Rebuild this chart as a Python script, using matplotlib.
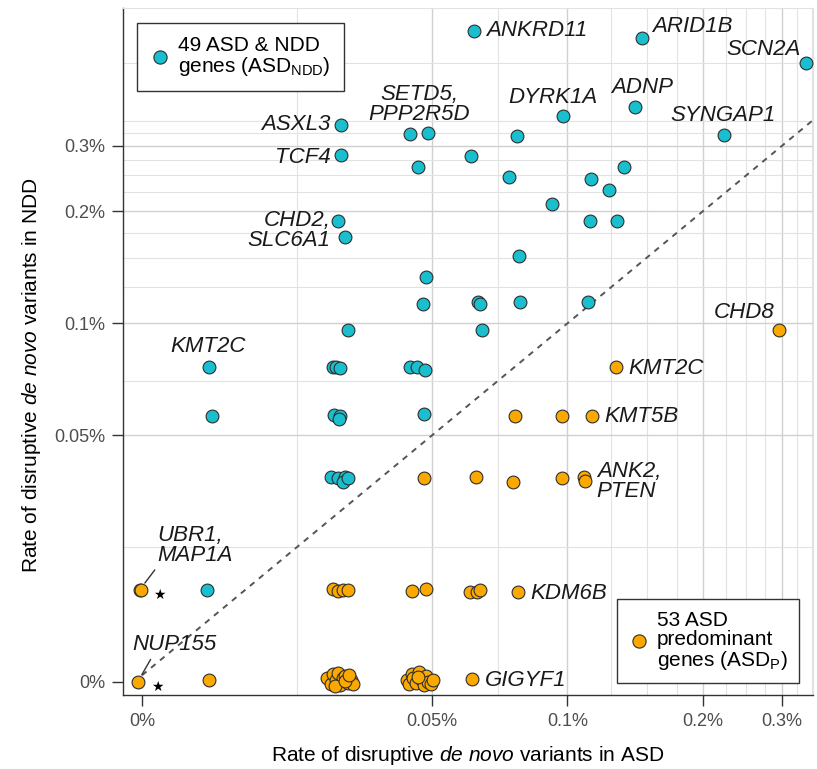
import matplotlib
matplotlib.use("Agg")
import matplotlib.pyplot as plt
from matplotlib.lines import Line2D

plt.rcParams['font.family'] = ['Liberation Sans', 'DejaVu Sans']
plt.rcParams['mathtext.fontset'] = 'custom'
plt.rcParams['mathtext.rm'] = 'Liberation Sans'
plt.rcParams['mathtext.it'] = 'Liberation Sans:italic'

# ---------------- data (rates in %) ----------------
# genes with zero variants sit at the chart's "0%" offset position
zero_x = 0.0113
zero_y = 0.01084

# 49 ASD & NDD genes (ASD_NDD)
ndd_x = [0.0620, 0.1465, 0.339, 0.1413, 0.0977, 0.2228, 0.0314, 0.0447, 0.0490, 0.0773,
         0.0314, 0.0611, 0.0465, 0.0741, 0.1336, 0.1128, 0.1237, 0.0924, 0.1122, 0.1289,
         0.0308, 0.0319, 0.0780, 0.0485, 0.0477, 0.0633, 0.0639, 0.0784, 0.1111, 0.0324,
         0.0646, 0.0159, 0.0300, 0.0306, 0.0312, 0.0447, 0.0463, 0.0482, 0.0162, 0.0303,
         0.0312, 0.0310, 0.0480, 0.0297, 0.0308, 0.0319, 0.0316, 0.0325, 0.0158]
ndd_y = [0.613, 0.587, 0.500, 0.383, 0.360, 0.322, 0.341, 0.324, 0.326, 0.320,
         0.283, 0.281, 0.264, 0.247, 0.264, 0.245, 0.229, 0.209, 0.189, 0.189,
         0.188, 0.171, 0.152, 0.133, 0.113, 0.114, 0.113, 0.114, 0.114, 0.0957,
         0.0960, 0.0762, 0.0762, 0.0762, 0.0757, 0.0762, 0.0762, 0.0748, 0.0563, 0.0566,
         0.0563, 0.0552, 0.0570, 0.0386, 0.0383, 0.0386, 0.0374, 0.0383, 0.0192]

# 53 ASD predominant genes (ASD_P)
asdp_x = [0.295, 0.1282, 0.0765, 0.0973, 0.1134, 0.0480, 0.0626, 0.0757, 0.0973, 0.1088,
          0.1093, 0.01117, 0.01125, 0.0301, 0.0308, 0.0317, 0.0324, 0.0451, 0.0485, 0.0607,
          0.0629, 0.0639, 0.0776, 0.01105, 0.0159, 0.0614,
          0.0292, 0.0297, 0.0301, 0.0306, 0.0309, 0.0312, 0.0316, 0.0320, 0.0324, 0.0329,
          0.0334, 0.0304, 0.0319, 0.0327,
          0.0440, 0.0444, 0.0451, 0.0454, 0.0461, 0.0468, 0.0473, 0.0480, 0.0485, 0.0490,
          0.0497, 0.0503, 0.0465]
asdp_y = [0.0957, 0.0762, 0.0563, 0.0563, 0.0563, 0.0383, 0.0386, 0.0374, 0.0383, 0.0386,
          0.0376, 0.0192, 0.0192, 0.0193, 0.0190, 0.0192, 0.0192, 0.0190, 0.0193, 0.0189,
          0.0189, 0.0192, 0.0189, 0.01084, 0.01098, 0.01104,
          0.01111, 0.01071, 0.01139, 0.01098, 0.01146, 0.01064, 0.01111, 0.01125, 0.01077, 0.01098,
          0.01071, 0.01058, 0.01091, 0.01132,
          0.01098, 0.01071, 0.01139, 0.01111, 0.01077, 0.01153, 0.01104, 0.01064, 0.01125, 0.01084,
          0.01071, 0.01098, 0.01118]

x_ticks = [zero_x, 0.05, 0.1, 0.2, 0.3]
x_tick_labels = ["0%", "0.05%", "0.1%", "0.2%", "0.3%"]
y_ticks = [zero_y, 0.05, 0.1, 0.2, 0.3]
y_tick_labels = ["0%", "0.05%", "0.1%", "0.2%", "0.3%"]
x_minor_grid = [0.025, 0.07, 0.125, 0.15, 0.175, 0.225, 0.25, 0.275, 0.325, 0.35]
y_minor_grid = [0.025, 0.07, 0.125, 0.15, 0.175, 0.225, 0.25, 0.275, 0.325, 0.35, 0.5]

# gene labels: (text, point index, dx px, dy px, ha)
ndd_labels = [("ANKRD11", 0, 12, 0, "left"),
              ("ARID1B", 1, 10, 11, "left"),
              ("SCN2A", 2, -5, 14, "right"),
              ("ADNP", 3, 7, 19, "center"),
              ("DYRK1A", 4, -10, 19, "center"),
              ("SYNGAP1", 5, -1, 19, "center"),
              ("ASXL3", 6, -11, 1, "right"),
              ("SETD5,\nPPP2R5D", 7, 9, 29, "center"),
              ("TCF4", 10, -11, -2, "right"),
              ("CHD2,\nSLC6A1", 20, -7, -9, "right"),
              ("KMT2C", 31, -1, 21, "center")]
asdp_labels = [("CHD8", 0, -34, 18, "center"),
               ("KMT2C", 1, 12, -1, "left"),
               ("KMT5B", 4, 12, 0, "left"),
               ("ANK2,\nPTEN", 10, 12, 0, "left"),
               ("KDM6B", 22, 12, -1, "left"),
               ("GIGYF1", 25, 13, -1, "left")]
# labels with leader lines and a star
lead_labels = [("UBR1,\nMAP1A", 11, 18, 44, 0.0), ("NUP155", 23, -5, 37, 0.24)]

blue = '#19BECF'
orange = '#FBA900'
edge = '#2E2E2E'
LABEL_SIZE = 16

fig = plt.figure(figsize=(8.17, 7.69), dpi=100)
ax = fig.add_axes([123 / 817, 74 / 769, 690 / 817, 687 / 769])
ax.set_xscale('log')
ax.set_yscale('log')

# ticks and grid
ax.set_xticks(x_ticks)
ax.set_xticklabels(x_tick_labels)
ax.set_yticks(y_ticks)
ax.set_yticklabels(y_tick_labels)
ax.set_xticks(x_minor_grid, minor=True)
ax.set_yticks(y_minor_grid, minor=True)
ax.xaxis.set_minor_formatter(plt.NullFormatter())
ax.yaxis.set_minor_formatter(plt.NullFormatter())
ax.set_xlim(0.01025, 0.352)
ax.set_ylim(0.0100, 0.705)
ax.grid(True, which='major', color='#D0D0D0', lw=1.0)
ax.grid(True, which='minor', color='#E2E2E2', lw=0.8)
ax.xaxis.get_gridlines()[0].set_visible(False)
ax.yaxis.get_gridlines()[0].set_visible(False)
ax.set_axisbelow(True)

ax.tick_params(axis='both', which='major', length=8, width=1.0, color='#333333',
               labelcolor='#4D4D4D', labelsize=13, pad=5)
ax.tick_params(axis='both', which='minor', length=0)

for s in ['left', 'bottom']:
    ax.spines[s].set_color('#333333')
    ax.spines[s].set_linewidth(1.0)
for s in ['top', 'right']:
    ax.spines[s].set_color('#E2E2E2')
    ax.spines[s].set_linewidth(0.8)

# diagonal y = x
diag = [zero_x, 0.36]
ax.plot(diag, diag, ls=(0, (3, 3)), color='#555555', lw=1.4, zorder=2)

ax.scatter(ndd_x, ndd_y, s=85, c=blue, edgecolors=edge, linewidths=0.8, zorder=3)
ax.scatter(asdp_x, asdp_y, s=85, c=orange, edgecolors=edge, linewidths=0.8, zorder=3)

for txt, i, dx, dy, ha in ndd_labels:
    ax.annotate(txt, (ndd_x[i], ndd_y[i]), xytext=(dx, dy), textcoords='offset pixels',
                ha=ha, va='center', fontsize=LABEL_SIZE, style='italic', color='#1A1A1A',
                linespacing=0.92, multialignment=ha, zorder=4)
for txt, i, dx, dy, ha in asdp_labels:
    ax.annotate(txt, (asdp_x[i], asdp_y[i]), xytext=(dx, dy), textcoords='offset pixels',
                ha=ha, va='center', fontsize=LABEL_SIZE, style='italic', color='#1A1A1A',
                linespacing=0.92, multialignment=ha, zorder=4)
for txt, i, dx, dy, rx in lead_labels:
    ax.annotate(txt, (asdp_x[i], asdp_y[i]), xytext=(dx, dy), textcoords='offset pixels',
                ha='left', va='center', fontsize=LABEL_SIZE, style='italic', color='#1A1A1A',
                linespacing=0.92, zorder=4,
                arrowprops=dict(arrowstyle='-', color='#333333', lw=1.0,
                                relpos=(rx, 0.0), shrinkA=1, shrinkB=6))
    ax.annotate('\u2605', (asdp_x[i], asdp_y[i]), xytext=(20, -5), textcoords='offset pixels',
                ha='center', va='center', fontsize=10, family='DejaVu Sans', color='black',
                zorder=4)

ax.set_xlabel("Rate of disruptive $\\mathit{de\\ novo}$ variants in ASD", fontsize=15)
ax.set_ylabel("Rate of disruptive $\\mathit{de\\ novo}$ variants in NDD", fontsize=15)
ax.xaxis.set_label_coords(0.5, -0.071)
ax.yaxis.set_label_coords(-0.116, 0.465)

h1 = Line2D([], [], ls='', marker='o', ms=9.5, mfc=blue, mec=edge, mew=0.8)
h2 = Line2D([], [], ls='', marker='o', ms=9.5, mfc=orange, mec=edge, mew=0.8)
leg1 = ax.legend([h1], ["49 ASD & NDD\ngenes (ASD$_{\\mathregular{NDD}}$)"],
                 loc='upper left', bbox_to_anchor=(0.0203, 0.978), fontsize=15,
                 frameon=True, fancybox=False, edgecolor='#333333', framealpha=1,
                 handlelength=1.0, handletextpad=0.35, borderpad=0.62, borderaxespad=0)
leg1.get_frame().set_linewidth(1.0)
for t in leg1.get_texts():
    t.set_linespacing(1.0)
ax.add_artist(leg1)
leg2 = ax.legend([h2], ["53 ASD\npredominant\ngenes (ASD$_{\\mathregular{P}}$)"],
                 loc='lower right', bbox_to_anchor=(0.9797, 0.0175), fontsize=15,
                 frameon=True, fancybox=False, edgecolor='#333333', framealpha=1,
                 handlelength=1.0, handletextpad=0.35, borderpad=0.55, borderaxespad=0)
leg2.get_frame().set_linewidth(1.0)
for t in leg2.get_texts():
    t.set_linespacing(1.0)

fig.savefig('out.png', dpi=100)
